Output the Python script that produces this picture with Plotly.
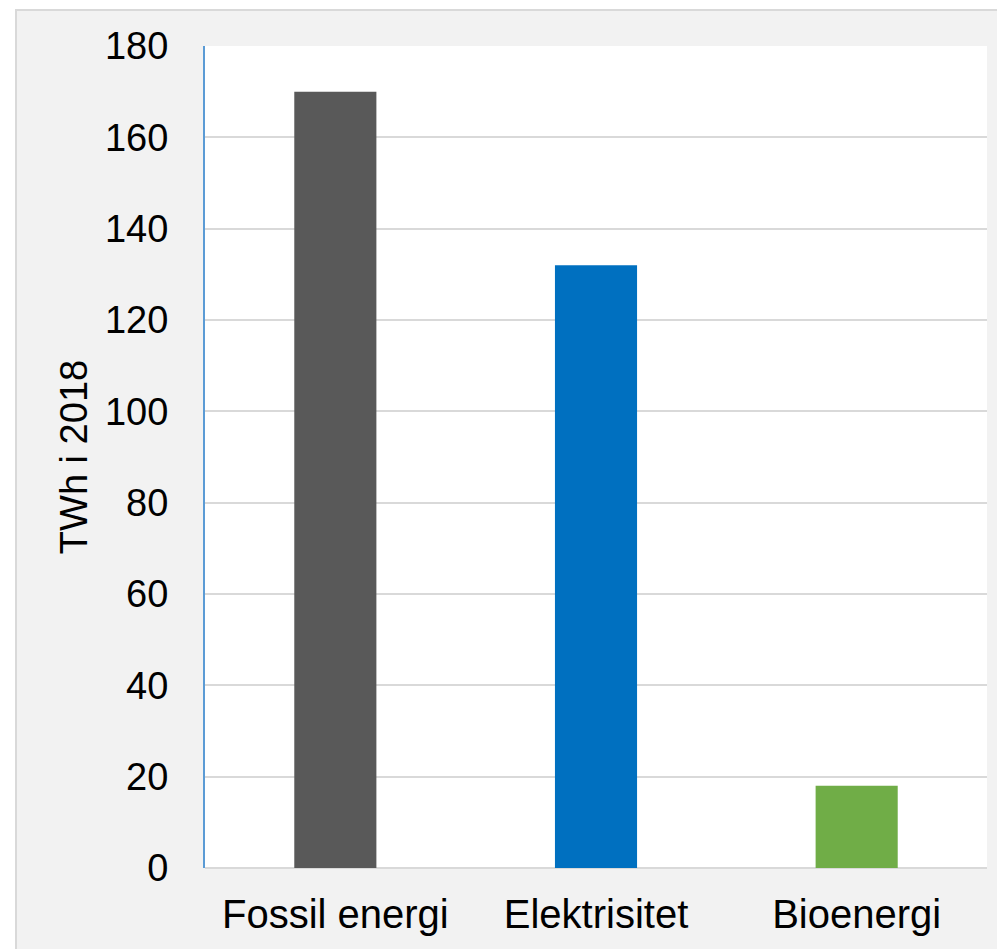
import plotly.graph_objects as go

# Final energy use by carrier, TWh in 2018
categories = ["Fossil energi", "Elektrisitet", "Bioenergi"]
values = [170, 132, 18]
bar_colors = ["#595959", "#0070c0", "#70ad47"]
y_ticks = [0, 20, 40, 60, 80, 100, 120, 140, 160, 180]

W, H = 997, 949
ML, MR, MT, MB = 205, 10, 46, 81
pw, ph = W - ML - MR, H - MT - MB


def px_to_paper_x(px):
    return (px - ML) / pw


def px_to_paper_y(py):
    return (H - MB - py) / ph


fig = go.Figure(
    go.Bar(
        x=categories,
        y=values,
        marker=dict(color=bar_colors, line=dict(width=0)),
        hoverinfo="x+y",
    )
)

font_family = "Liberation Sans, Arial, sans-serif"

fig.update_layout(
    width=W,
    height=H,
    margin=dict(l=ML, r=MR, t=MT, b=MB, pad=0),
    paper_bgcolor="white",
    plot_bgcolor="rgba(0,0,0,0)",
    bargap=0.685,
    showlegend=False,
    font=dict(family=font_family, size=38, color="#000000"),
    shapes=[
        # outer chart frame
        dict(
            type="rect", xref="paper", yref="paper", layer="below",
            x0=px_to_paper_x(16), x1=px_to_paper_x(W + 5),
            y0=px_to_paper_y(H + 5), y1=px_to_paper_y(10),
            fillcolor="#f2f2f2", line=dict(color="#d9d9d9", width=2),
        ),
        # white plot area
        dict(
            type="rect", xref="paper", yref="paper", layer="below",
            x0=0, x1=1, y0=0, y1=1,
            fillcolor="white", line=dict(width=0),
        ),
    ],
)

fig.update_yaxes(
    range=[0, 180],
    tickvals=y_ticks,
    showgrid=True,
    gridcolor="#d9d9d9",
    gridwidth=2,
    zeroline=True,
    zerolinecolor="#d9d9d9",
    zerolinewidth=2,
    showline=True,
    linecolor="#5b9bd5",
    linewidth=2,
    ticks="",
    ticklabelstandoff=27,
    tickfont=dict(size=38),
    title=dict(text="TWh i 2018", font=dict(size=38), standoff=6),
)

fig.update_xaxes(
    showgrid=False,
    showline=False,
    ticks="",
    ticklabelstandoff=19,
    tickfont=dict(size=40),
)

fig.write_html("out.html")
